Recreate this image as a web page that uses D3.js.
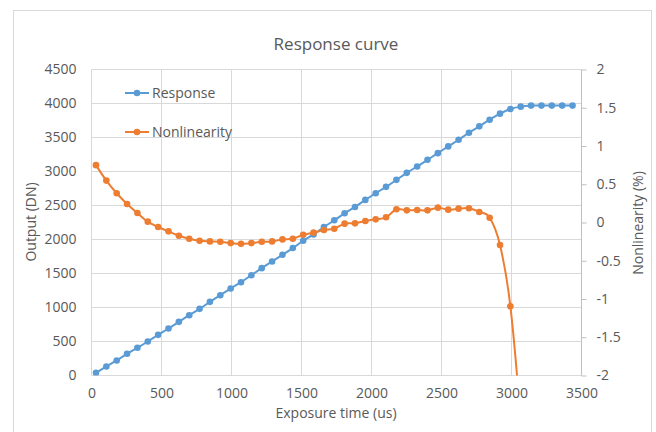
<!DOCTYPE html>
<html>
<head>
<meta charset="utf-8">
<script src="https://cdn.jsdelivr.net/npm/d3@7"></script>
<style>
  body { margin: 0; background: #fff; }
  text { font-family: "Open Sans", sans-serif; fill: #595959; }
</style>
</head>
<body>
<svg id="chart" width="656" height="432"></svg>
<script>
// exposure times (us)
const exposure = [32, 106, 180, 254, 328, 402, 476, 550, 624, 698, 772, 846, 920, 994, 1068, 1142,
  1216, 1290, 1364, 1438, 1512, 1586, 1660, 1734, 1808, 1882, 1956, 2030, 2104, 2178, 2252, 2326,
  2400, 2474, 2548, 2622, 2696, 2770, 2844, 2918, 2992, 3066, 3140, 3214, 3288, 3362, 3436];

// output (DN)
const response = [38, 133, 221, 319, 407, 500, 598, 691, 789, 887, 980, 1083, 1181, 1279, 1372, 1475,
  1579, 1677, 1775, 1874, 1982, 2075, 2184, 2282, 2385, 2479, 2582, 2680, 2774, 2877, 2980, 3074,
  3172, 3270, 3369, 3467, 3570, 3664, 3762, 3851, 3920, 3954, 3969, 3969, 3969, 3969, 3969];

// nonlinearity (%), last points fall below the axis
const nonlinearity = [0.75, 0.548, 0.382, 0.242, 0.124, 0.011, -0.059, -0.116, -0.173, -0.212, -0.238,
  -0.247, -0.252, -0.269, -0.278, -0.269, -0.252, -0.247, -0.221, -0.212, -0.16, -0.133, -0.098,
  -0.081, -0.015, -0.011, 0.02, 0.041, 0.068, 0.173, 0.159, 0.164, 0.159, 0.194, 0.168, 0.181,
  0.186, 0.138, 0.063, -0.295, -1.095, -2.6, -4.6, -7.0, -9.4, -11.8, -14.2];

const xTicks = [0, 500, 1000, 1500, 2000, 2500, 3000, 3500];
const yTicks = [0, 500, 1000, 1500, 2000, 2500, 3000, 3500, 4000, 4500];
const y2Ticks = [-2, -1.5, -1, -0.5, 0, 0.5, 1, 1.5, 2];

const seriesNames = ["Response", "Nonlinearity"];
const colors = ["#5B9BD5", "#ED7D31"];

const svg = d3.select('#chart');

const plotLeft = 91.5, plotRight = 581.5, plotTop = 69.5, plotBottom = 375.5;

const x = d3.scaleLinear().domain([0, 3500]).range([plotLeft, plotRight]);
const y = d3.scaleLinear().domain([0, 4500]).range([plotBottom, plotTop]);
const y2 = d3.scaleLinear().domain([-2, 2]).range([plotBottom, plotTop]);

const plain = d => String(d);

// chart area border
svg.append('rect')
  .attr('x', 13.5).attr('y', 10.5)
  .attr('width', 638).attr('height', 440)
  .attr('fill', '#fff')
  .attr('stroke', '#d9d9d9');

// gridlines
svg.append('g').selectAll('line')
  .data(yTicks)
  .join('line')
  .attr('x1', plotLeft).attr('x2', plotRight)
  .attr('y1', d => y(d)).attr('y2', d => y(d))
  .attr('stroke', '#d9d9d9');

svg.append('g').selectAll('line')
  .data(xTicks)
  .join('line')
  .attr('x1', d => x(d)).attr('x2', d => x(d))
  .attr('y1', plotTop).attr('y2', plotBottom)
  .attr('stroke', '#d9d9d9');

// left axis labels
svg.append('g')
  .attr('transform', `translate(${plotLeft - 15},0)`)
  .call(d3.axisLeft(y).tickValues(yTicks).tickSize(0).tickPadding(0).tickFormat(plain))
  .call(g => g.select('.domain').remove())
  .selectAll('text')
  .style('font-size', '14px').style('font-family', '"Open Sans", sans-serif').attr('fill', '#595959');

// bottom axis labels
svg.append('g')
  .attr('transform', `translate(0,${plotBottom})`)
  .call(d3.axisBottom(x).tickValues(xTicks).tickSize(0).tickPadding(13).tickFormat(plain))
  .call(g => g.select('.domain').remove())
  .selectAll('text')
  .style('font-size', '14px').style('font-family', '"Open Sans", sans-serif').attr('fill', '#595959');

// right axis with outer ticks
svg.append('g')
  .attr('transform', `translate(${plotRight},0)`)
  .call(d3.axisRight(y2).tickValues(y2Ticks).tickSize(5).tickPadding(10).tickFormat(plain))
  .call(g => g.select('.domain').attr('stroke', '#bfbfbf').attr('d', `M0,${plotTop}V${plotBottom}`))
  .call(g => g.selectAll('.tick line').attr('stroke', '#bfbfbf'))
  .selectAll('text')
  .style('font-size', '14px').style('font-family', '"Open Sans", sans-serif').attr('fill', '#595959');

// clip for the series
svg.append('clipPath').attr('id', 'plot-clip')
  .append('rect')
  .attr('x', plotLeft - 10).attr('y', plotTop - 10)
  .attr('width', plotRight - plotLeft + 20).attr('height', plotBottom - plotTop + 10);

const xy = exposure.map((d, i) => ({x: d, r: response[i], n: nonlinearity[i]}));

const plot = svg.append('g').attr('clip-path', 'url(#plot-clip)');

const lineResp = d3.line().x(d => x(d.x)).y(d => y(d.r)).curve(d3.curveCardinal.tension(0));
const lineNon = d3.line().x(d => x(d.x)).y(d => y2(d.n)).curve(d3.curveCardinal.tension(0));

plot.append('path').datum(xy)
  .attr('d', lineResp).attr('fill', 'none')
  .attr('stroke', colors[0]).attr('stroke-width', 2);

plot.append('g').selectAll('circle')
  .data(xy)
  .join('circle')
  .attr('cx', d => x(d.x)).attr('cy', d => y(d.r))
  .attr('r', 3.3).attr('fill', colors[0]);

plot.append('path').datum(xy)
  .attr('d', lineNon).attr('fill', 'none')
  .attr('stroke', colors[1]).attr('stroke-width', 2);

plot.append('g').selectAll('circle')
  .data(xy.filter(d => d.n >= -2))
  .join('circle')
  .attr('cx', d => x(d.x)).attr('cy', d => y2(d.n))
  .attr('r', 3.3).attr('fill', colors[1]);

// legend
const legend = svg.append('g').selectAll('g')
  .data(seriesNames)
  .join('g')
  .attr('transform', (d, i) => `translate(125,${93 + i * 39})`);

legend.append('line')
  .attr('x1', 0).attr('x2', 24)
  .attr('stroke', (d, i) => colors[i]).attr('stroke-width', 2);
legend.append('circle')
  .attr('cx', 12).attr('r', 3.3)
  .attr('fill', (d, i) => colors[i]);
legend.append('text')
  .attr('x', 27).attr('dy', '0.35em')
  .style('font-size', '14px')
  .text(d => d);

// titles
svg.append('text')
  .attr('x', 336).attr('y', 44).attr('dy', '0.35em')
  .attr('text-anchor', 'middle')
  .style('font-size', '17px')
  .text('Response curve');

svg.append('text')
  .attr('x', 336).attr('y', 413).attr('dy', '0.35em')
  .attr('text-anchor', 'middle')
  .style('font-size', '14px')
  .text('Exposure time (us)');

svg.append('text')
  .attr('transform', 'translate(31,222) rotate(-90)')
  .attr('dy', '0.35em')
  .attr('text-anchor', 'middle')
  .style('font-size', '14px')
  .text('Output (DN)');

svg.append('text')
  .attr('transform', 'translate(638,223) rotate(-90)')
  .attr('dy', '0.35em')
  .attr('text-anchor', 'middle')
  .style('font-size', '14px')
  .text('Nonlinearity (%)');
</script>
</body>
</html>
